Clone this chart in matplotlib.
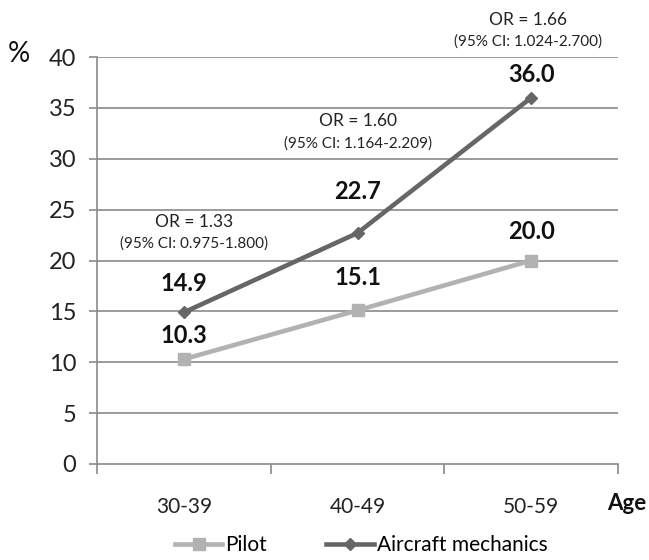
import matplotlib
matplotlib.use("Agg")
import matplotlib.pyplot as plt
from matplotlib.ticker import FixedLocator, NullFormatter, FixedFormatter

plt.rcParams['font.family'] = ['Lato', 'DejaVu Sans']

categories = ["30-39", "40-49", "50-59"]
pilot = [10.3, 15.1, 20.0]
mechanics = [14.9, 22.7, 36.0]
or_labels = ["OR = 1.33", "OR = 1.60", "OR = 1.66"]
ci_labels = ["(95% CI: 0.975-1.800)", "(95% CI: 1.164-2.209)", "(95% CI: 1.024-2.700)"]
yticks = [0, 5, 10, 15, 20, 25, 30, 35, 40]

fig = plt.figure(figsize=(6.49, 5.6), dpi=100)
ax = fig.add_axes([97/649, 1-464/560, (618-97)/649, (464-57)/560])

grid_c = "#8a8a8a"
pilot_c = "#b2b2b2"
mech_c = "#666666"

x = list(range(len(categories)))
ax.set_xlim(-0.5, len(categories) - 0.5)
ax.set_ylim(0, 40)
for yv in yticks[1:]:
    ax.axhline(yv, color=grid_c, lw=1.2, zorder=0)

ax.plot(x, pilot, color=pilot_c, lw=3.3, marker="s", ms=8.5, label="Pilot", zorder=3)
ax.plot(x, mechanics, color=mech_c, lw=3.3, marker="D", ms=6.5, label="Aircraft mechanics", zorder=4)

pilot_off = [17, 24, 21]
mech_off = [21, 30, 16.5]
for xi, v, off in zip(x, pilot, pilot_off):
    ax.annotate(f"{v:.1f}", (xi, v), xytext=(0, off), textcoords="offset points",
                ha="center", va="center", fontsize=17, fontweight="bold", color="#111111")
for xi, v, off in zip(x, mechanics, mech_off):
    ax.annotate(f"{v:.1f}", (xi, v), xytext=(0, off), textcoords="offset points",
                ha="center", va="center", fontsize=17, fontweight="bold", color="#111111")

or_x = [0.058, 1.003, 1.98]
or_y = [23.8, 33.7, 43.6]
ci_y = [21.7, 31.5, 41.5]
for xo, o, c, oy, cy in zip(or_x, or_labels, ci_labels, or_y, ci_y):
    ax.text(xo, oy, o, ha="center", va="center", fontsize=12.5, color="#222222", clip_on=False)
    ax.text(xo, cy, c, ha="center", va="center", fontsize=11, color="#222222", clip_on=False)

ax.xaxis.set_major_locator(FixedLocator([-0.5, 0.5, 1.5, 2.5]))
ax.xaxis.set_major_formatter(NullFormatter())
ax.xaxis.set_minor_locator(FixedLocator(x))
ax.xaxis.set_minor_formatter(FixedFormatter(categories))
ax.tick_params(axis="x", which="major", length=7, width=1.2, color=grid_c, direction="out")
ax.tick_params(axis="x", which="minor", length=0, pad=24, labelsize=15, labelcolor="#222222")
ax.set_yticks(yticks)
ax.tick_params(axis="y", length=6, width=1.2, color=grid_c, labelsize=17, labelcolor="#222222", pad=9)

for s in ["top", "right"]:
    ax.spines[s].set_visible(False)
for s in ["left", "bottom"]:
    ax.spines[s].set_color(grid_c)
    ax.spines[s].set_linewidth(1.2)

fig.text(19/649, 1-54/560, "%", fontsize=20, ha="center", va="center", color="#111111")
fig.text(627/649, 1-503/560, "Age", fontsize=16, fontweight="bold", ha="center", va="center", color="#111111")

leg = fig.legend(loc="center", bbox_to_anchor=(361/649, 1-545/560), ncol=2, frameon=False,
                 fontsize=15, handlelength=2.3, handletextpad=0.15, columnspacing=2.8,
                 borderpad=0.1)

fig.savefig("out.png", dpi=100)
